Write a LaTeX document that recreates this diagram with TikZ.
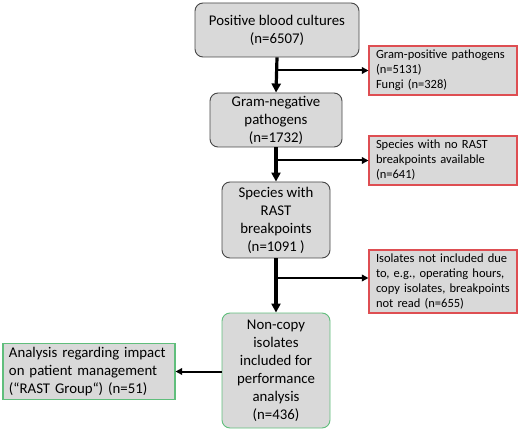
\documentclass[tikz,border=0pt]{standalone}
\usepackage{fontspec}
\setmainfont{Carlito}
\usetikzlibrary{arrows.meta}
\definecolor{boxgray}{RGB}{217,217,217}
\definecolor{edgegray}{RGB}{70,70,70}
\definecolor{exred}{RGB}{222,78,82}
\definecolor{ingreen}{RGB}{96,190,124}
\begin{document}
\begin{tikzpicture}[
  x=1pt, y=-1pt,
  mainbox/.style={draw=edgegray, line width=0.9pt, fill=boxgray, rounded corners=8pt,
    align=center, inner sep=0pt, font=\fontsize{14.8}{18}\selectfont},
  exbox/.style={draw=exred, line width=1.1pt, fill=boxgray, align=left,
    inner xsep=7pt, inner ysep=0pt, text width=134pt, minimum height=49pt,
    font=\fontsize{12.5}{15}\selectfont},
  flow/.style={line width=3.2pt, -{Triangle[length=9pt,width=9pt]}},
  branch/.style={line width=2pt, -{Triangle[length=6.5pt,width=6.5pt]}}
]
  \useasboundingbox (0,0) rectangle (520,433);

  % === Main stream ===
  \node[mainbox, minimum width=164pt, minimum height=54pt] (cult) at (277,30)
    {Positive blood cultures\\(n=6507)};
  \node[mainbox, minimum width=132pt, minimum height=54pt] (gneg) at (276,120)
    {Gram-negative\\pathogens\\(n=1732)};
  \node[mainbox, minimum width=108pt, minimum height=76pt] (rast) at (276,220)
    {Species with\\RAST\\breakpoints\\(n=1091 )};
  \node[mainbox, draw=ingreen, minimum width=108pt, minimum height=115pt] (perf) at (276,370.5)
    {Non-copy\\isolates\\included for\\performance\\analysis\\(n=436)};

  % === Excluded isolates ===
  \node[exbox] (exgpos) at (443,70.5)
    {Gram-positive pathogens\\(n=5131)\\Fungi (n=328)};
  \node[exbox] (exnobp) at (443,160.5)
    {Species with no RAST\\breakpoints available\\(n=641)};
  \node[exbox, minimum height=63pt] (exmisc) at (443,281.5)
    {Isolates not included due\\to, e.g., operating hours,\\copy isolates, breakpoints\\not read (n=655)};

  % === RAST group ===
  \node[draw=ingreen, line width=1.1pt, fill=boxgray, align=left, inner xsep=6pt,
    text width=160pt, minimum height=53pt, font=\fontsize{14.8}{18}\selectfont] (grp) at (89,371.5)
    {Analysis regarding impact\\on patient management\\(``RAST Group``) (n=51)};

  % Arrows
  \draw[flow] (cult.south) -- (gneg.north);
  \draw[flow] (gneg.south) -- (rast.north);
  \draw[flow] (rast.south) -- (perf.north);
  \draw[branch] (cult.south |- exgpos.west) -- (exgpos.west);
  \draw[branch] (gneg.south |- exnobp.west) -- (exnobp.west);
  \draw[branch] (rast.south |- 0,278) -- (exmisc.west |- 0,278);
  \draw[branch] (perf.west |- grp.east) -- (grp.east);
\end{tikzpicture}
\end{document}
